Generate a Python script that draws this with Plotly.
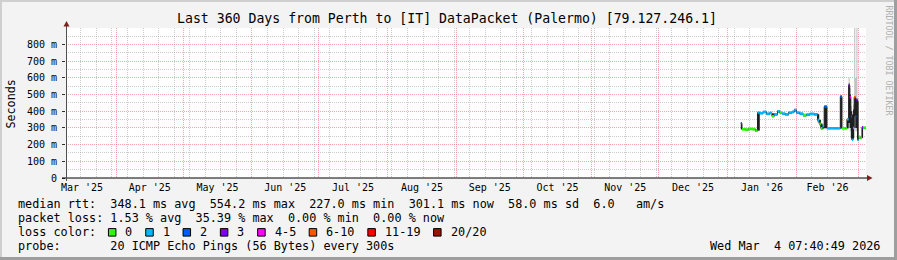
import plotly.graph_objects as go

# ---------------- data ----------------
start_time = "2025-03-09 07:40"
end_time = "2026-03-04 07:40"

times = ["2026-01-07 00:00", "2026-01-07 12:00", "2026-01-09 00:00", "2026-01-10 12:00",
         "2026-01-12 00:00", "2026-01-13 12:00", "2026-01-14 12:00", "2026-01-15 12:00",
         "2026-01-17 00:00", "2026-01-18 12:00", "2026-01-20 00:00", "2026-01-21 00:00",
         "2026-01-22 00:00", "2026-01-23 12:00", "2026-01-24 12:00", "2026-01-25 12:00",
         "2026-01-27 00:00", "2026-01-28 12:00", "2026-01-30 00:00", "2026-01-31 00:00",
         "2026-02-01 00:00", "2026-02-02 12:00", "2026-02-04 00:00", "2026-02-05 12:00",
         "2026-02-07 00:00", "2026-02-09 00:00", "2026-02-10 12:00", "2026-02-11 06:00",
         "2026-02-12 00:00", "2026-02-12 18:00", "2026-02-13 12:00", "2026-02-14 18:00",
         "2026-02-17 00:00", "2026-02-19 00:00", "2026-02-20 18:00", "2026-02-21 12:00",
         "2026-02-23 00:00", "2026-02-23 18:00", "2026-02-24 12:00", "2026-02-25 00:00",
         "2026-02-25 12:00", "2026-02-26 00:00", "2026-02-26 12:00", "2026-02-27 00:00",
         "2026-02-27 12:00", "2026-02-28 00:00", "2026-02-28 12:00", "2026-03-01 00:00",
         "2026-03-01 18:00", "2026-03-02 12:00", "2026-03-03 00:00"]

median_ms = [328, 292, 290, 294, 293, 284, 392, 388, 396, 384, 390, 370,
             382, 400, 392, 386, 382, 392, 396, 408, 392, 386, 376, 380,
             384, 382, 348, 325, 298, 312, 428, 298, 298, 298, 488, 298,
             298, 352, 554, 484, 368, 228, 300, 484, 368, 468, 228, 245,
             240, 304, 301]

loss_idx = [2, 0, 0, 0, 0, 0, 1, 1, 1, 1, 1, 0,
            1, 1, 0, 1, 1, 1, 1, 1, 1, 1, 0, 1,
            1, 1, 1, 0, 0, 1, 2, 1, 1, 1, 2, 0,
            0, 1, 3, 4, 2, 1, 1, 5, 2, 3, 1, 0,
            0, 3, 0]

smoke_lo = [292, 288, 286, 290, 289, 280, 284, 384, 390, 380, 384, 366,
            376, 394, 386, 380, 376, 386, 390, 400, 386, 380, 370, 374,
            378, 376, 340, 318, 292, 296, 300, 294, 294, 294, 298, 294,
            294, 298, 330, 300, 238, 228, 240, 370, 300, 300, 228, 238,
            236, 240, 296]

smoke_hi = [330, 296, 294, 298, 297, 290, 394, 392, 400, 390, 394, 386,
            386, 404, 396, 390, 386, 396, 400, 412, 396, 390, 382, 384,
            388, 386, 382, 348, 325, 316, 430, 302, 302, 302, 490, 302,
            302, 354, 566, 500, 400, 380, 410, 490, 480, 470, 460, 250,
            246, 306, 306]

outer_lo = [288, 284, 282, 286, 285, 276, 280, 380, 386, 376, 380, 362,
            372, 390, 382, 376, 372, 382, 386, 396, 382, 376, 366, 370,
            374, 372, 330, 310, 288, 290, 292, 290, 290, 290, 292, 290,
            290, 292, 300, 280, 230, 222, 232, 300, 280, 280, 222, 234,
            232, 236, 292]

outer_hi = [334, 300, 298, 302, 301, 294, 398, 396, 404, 394, 398, 390,
            390, 408, 400, 394, 390, 400, 404, 416, 400, 394, 386, 388,
            392, 390, 386, 352, 330, 320, 436, 306, 306, 306, 496, 306,
            306, 360, 600, 540, 430, 400, 440, 900, 600, 900, 480, 256,
            250, 310, 310]

loss_colors = ["#26ff00", "#00b8ff", "#0059ff", "#7e00ff",
               "#ff00ff", "#ff5500", "#ff0000", "#a01000"]
loss_labels = ["0", "1", "2", "3", "4-5", "6-10", "11-19", "20/20"]

y_tickvals = [0, 100, 200, 300, 400, 500, 600, 700, 800]
y_ticktext = ["0", "100 m", "200 m", "300 m", "400 m", "500 m", "600 m", "700 m", "800 m"]
y_minorvals = [50, 150, 250, 350, 450, 550, 650, 750, 850]

title_text = "Last 360 Days from Perth to [IT] DataPacket (Palermo) [79.127.246.1]"
legend_row1 = "median rtt:  348.1 ms avg  554.2 ms max  227.0 ms min  301.1 ms now  58.0 ms sd  6.0   am/s"
legend_row2 = "packet loss: 1.53 % avg  35.39 % max  0.00 % min  0.00 % now"
legend_row3 = "loss color:"
legend_row4 = "probe:       20 ICMP Echo Pings (56 Bytes) every 300s"
timestamp_text = "Wed Mar  4 07:40:49 2026"

# ---------------- geometry helpers ----------------
W, H = 897, 260
L, R, T, B = 66, 866, 28, 178
CW = 7.11  # legend character advance (px)
def px(x):
    return (x - L) / (R - L)
def py(y):
    return (B - y) / (B - T)
def nb(s):
    return s.replace(" ", "\u00a0")

MONO = "DejaVu Sans Mono"
LEG_SIZE = 11.8

fig = go.Figure()

tx = times + [end_time]
def ext(a):
    return list(a) + [a[-1]]

# outer (light) smoke
fig.add_trace(go.Scatter(x=tx, y=ext(outer_lo), mode="lines",
                         line=dict(width=0, shape="hv"), hoverinfo="skip", showlegend=False))
fig.add_trace(go.Scatter(x=tx, y=ext(outer_hi), mode="lines", fill="tonexty",
                         fillcolor="#c2c2c2", line=dict(width=0, shape="hv"),
                         hoverinfo="skip", showlegend=False))
# inner (dark) smoke
fig.add_trace(go.Scatter(x=tx, y=ext(smoke_lo), mode="lines",
                         line=dict(width=0, shape="hv"), hoverinfo="skip", showlegend=False))
fig.add_trace(go.Scatter(x=tx, y=ext(smoke_hi), mode="lines", fill="tonexty",
                         fillcolor="#1e1e1e", line=dict(width=0, shape="hv"),
                         hoverinfo="skip", showlegend=False))
# median connector
fig.add_trace(go.Scatter(x=tx, y=ext(median_ms), mode="lines",
                         line=dict(width=1, color="#202020", shape="hv"),
                         hoverinfo="skip", showlegend=False))
# median colored by loss
for ci, col in enumerate(loss_colors):
    xs, ys = [], []
    for i in range(len(times)):
        if loss_idx[i] == ci:
            xs += [tx[i], tx[i + 1], None]
            ys += [median_ms[i], median_ms[i], None]
    if xs:
        fig.add_trace(go.Scatter(x=xs, y=ys, mode="lines",
                                 line=dict(width=2.5, color=col),
                                 hoverinfo="skip", showlegend=False))

grid_minor = "rgba(160,160,160,0.55)"
grid_major = "rgba(235,110,110,0.6)"
DOT = "1px,1px"

fig.update_xaxes(
    type="date", range=[start_time, end_time],
    dtick="M1", tick0="2025-01-01", tickformat="%b '%y", ticklabelmode="period",
    showgrid=True, gridcolor=grid_major, griddash=DOT, gridwidth=1,
    minor=dict(dtick=7 * 24 * 3600 * 1000, tick0="2025-03-16", showgrid=True,
               gridcolor=grid_minor, griddash=DOT, gridwidth=1),
    showline=False, zeroline=False, ticks="",
    tickfont=dict(family=MONO, size=10, color="#000000"),
    ticklabelstandoff=2,
)
fig.update_yaxes(
    range=[0, 899], tickmode="array", tickvals=y_tickvals, ticktext=y_ticktext,
    showgrid=True, gridcolor=grid_major, griddash=DOT, gridwidth=1,
    minor=dict(tickmode="array", tickvals=y_minorvals, showgrid=True,
               gridcolor=grid_minor, griddash=DOT, gridwidth=1),
    showline=False, zeroline=False, ticks="outside", ticklen=3, tickcolor="#303030",
    tickfont=dict(family=MONO, size=10, color="#000000"),
    ticklabelstandoff=3,
)

shapes = []
# frame border
shapes.append(dict(type="line", xref="paper", yref="paper", x0=px(0), x1=px(W), y0=py(1), y1=py(1),
                   line=dict(color="#cfcfcf", width=2)))
shapes.append(dict(type="line", xref="paper", yref="paper", x0=px(1), x1=px(1), y0=py(0), y1=py(H),
                   line=dict(color="#cfcfcf", width=2)))
shapes.append(dict(type="line", xref="paper", yref="paper", x0=px(0), x1=px(W), y0=py(H - 1.5), y1=py(H - 1.5),
                   line=dict(color="#9e9e9e", width=3)))
shapes.append(dict(type="line", xref="paper", yref="paper", x0=px(W - 1.5), x1=px(W - 1.5), y0=py(0), y1=py(H),
                   line=dict(color="#9e9e9e", width=3)))
# axes
shapes.append(dict(type="line", xref="paper", yref="paper", x0=px(62), x1=px(869), y0=py(178), y1=py(178),
                   line=dict(color="#000000", width=1)))
shapes.append(dict(type="line", xref="paper", yref="paper", x0=px(66.5), x1=px(66.5), y0=py(181), y1=py(24),
                   line=dict(color="#505050", width=1)))
# arrows
shapes.append(dict(type="path", xref="paper", yref="paper",
                   path=f"M {px(867)} {py(175)} L {px(872.5)} {py(178)} L {px(867)} {py(181)} Z",
                   fillcolor="#801f1f", line=dict(width=0)))
shapes.append(dict(type="path", xref="paper", yref="paper",
                   path=f"M {px(63.5)} {py(26.5)} L {px(66.5)} {py(21)} L {px(69.5)} {py(26.5)} Z",
                   fillcolor="#801f1f", line=dict(width=0)))

annotations = []
row_y = [204.3, 218.3, 232.3, 246.3]
LX = 16
for txt, yy in zip([legend_row1, legend_row2, legend_row3, legend_row4], row_y):
    annotations.append(dict(text=nb(txt), x=px(LX), y=py(yy), xref="paper", yref="paper",
                            xanchor="left", yanchor="middle", showarrow=False,
                            font=dict(family=MONO, size=LEG_SIZE, color="#000000")))
# loss colour swatches: laid out like rrdtool legend items
sx = LX + 13 * CW
for lab, col in zip(loss_labels, loss_colors):
    shapes.append(dict(type="rect", xref="paper", yref="paper",
                       x0=px(sx), x1=px(sx + 7.5), y0=py(row_y[2] + 3.8), y1=py(row_y[2] - 3.7),
                       fillcolor=col, line=dict(color="#000000", width=1)))
    annotations.append(dict(text=lab, x=px(sx + 15), y=py(row_y[2]), xref="paper", yref="paper",
                            xanchor="left", yanchor="middle", showarrow=False,
                            font=dict(family=MONO, size=LEG_SIZE, color="#000000")))
    sx += 30.2 + len(lab) * CW

annotations.append(dict(text=nb(timestamp_text), x=px(882), y=py(row_y[3]), xref="paper", yref="paper",
                        xanchor="right", yanchor="middle", showarrow=False,
                        font=dict(family=MONO, size=LEG_SIZE, color="#000000")))
annotations.append(dict(text="Seconds", x=px(10), y=py(103.5), xref="paper", yref="paper",
                        xanchor="center", yanchor="middle", textangle=-90, showarrow=False,
                        font=dict(family=MONO, size=11.7, color="#000000")))
annotations.append(dict(text=nb("RRDTOOL / TOBI OETIKER"), x=px(888.5), y=py(60), xref="paper", yref="paper",
                        xanchor="center", yanchor="middle", textangle=90, showarrow=False,
                        font=dict(family=MONO, size=8.3, color="#b0b0b0")))
annotations.append(dict(text=title_text, x=px(447), y=py(19), xref="paper", yref="paper",
                        xanchor="center", yanchor="middle", showarrow=False,
                        font=dict(family=MONO, size=13.2, color="#000000")))

fig.update_layout(
    width=W, height=H, autosize=False,
    margin=dict(l=L, r=W - R, t=T, b=H - B, pad=0),
    paper_bgcolor="#f3f3f3", plot_bgcolor="#ffffff",
    shapes=shapes, annotations=annotations, showlegend=False,
)

fig.write_html("out.html")
